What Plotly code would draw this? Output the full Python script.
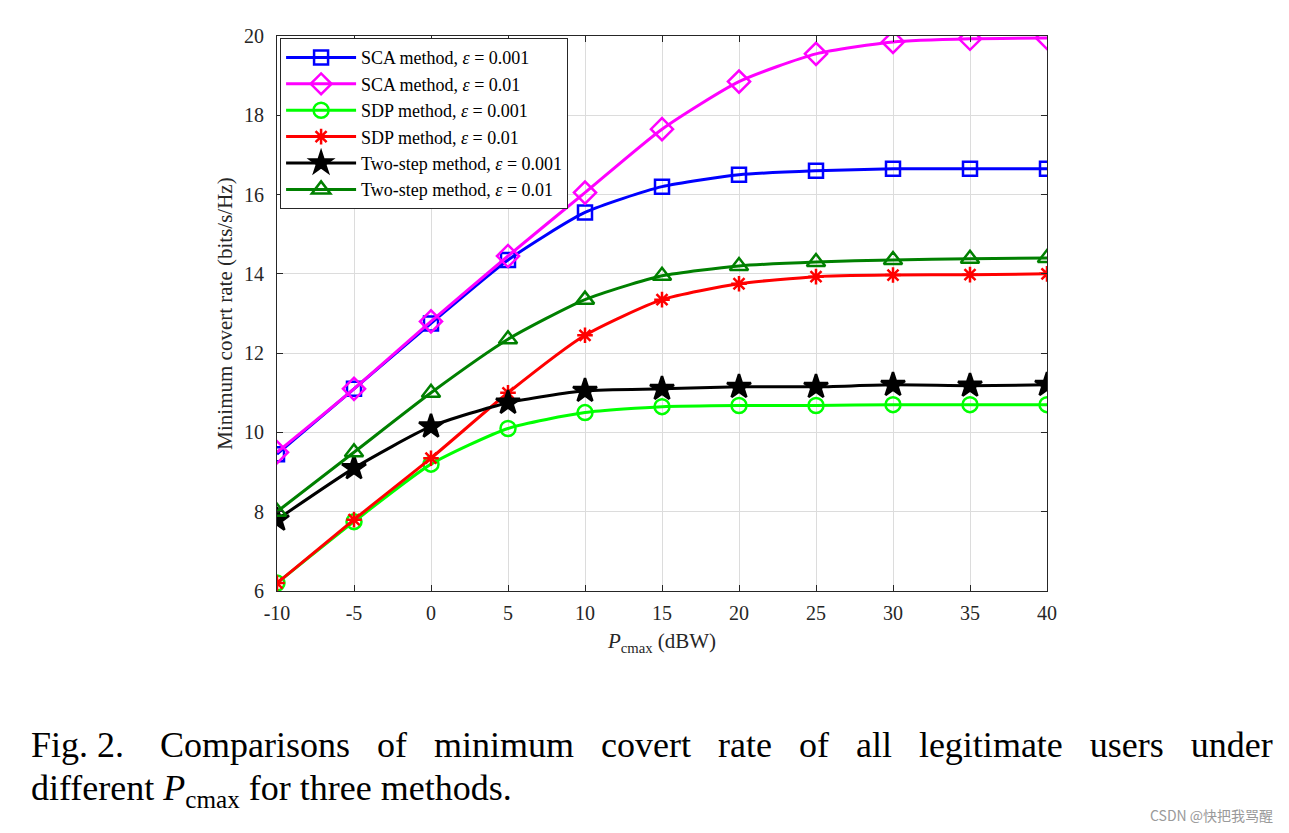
import plotly.graph_objects as go

x_dbw = [-10, -5, 0, 5, 10, 15, 20, 25, 30, 35, 40]
sca_0001 = [9.45, 11.1, 12.75, 14.35, 15.55, 16.2, 16.5, 16.6, 16.65, 16.65, 16.65]
sca_001 = [9.5, 11.1, 12.8, 14.45, 16.05, 17.65, 18.85, 19.55, 19.85, 19.93, 19.95]
sdp_0001 = [6.2, 7.75, 9.2, 10.1, 10.5, 10.65, 10.68, 10.68, 10.7, 10.7, 10.7]
sdp_001 = [6.2, 7.8, 9.35, 11.0, 12.45, 13.35, 13.75, 13.93, 13.97, 13.98, 14.0]
two_0001 = [7.8, 9.1, 10.15, 10.75, 11.05, 11.1, 11.15, 11.15, 11.2, 11.18, 11.2]
two_001 = [8.0, 9.5, 11.0, 12.35, 13.35, 13.95, 14.2, 14.3, 14.35, 14.38, 14.4]

x_ticks = [-10, -5, 0, 5, 10, 15, 20, 25, 30, 35, 40]
y_ticks = [6, 8, 10, 12, 14, 16, 18, 20]

series = [
    ("SCA method, <i>ε</i> = 0.001", sca_0001, "#0000FF", "square-open", 14),
    ("SCA method, <i>ε</i> = 0.01", sca_001, "#FF00FF", "diamond-open", 17),
    ("SDP method, <i>ε</i> = 0.001", sdp_0001, "#00FF00", "circle-open", 15),
    ("SDP method, <i>ε</i> = 0.01", sdp_001, "#FF0000", "asterisk-open", 13),
    ("Two-step method, <i>ε</i> = 0.001", two_0001, "#000000", "star", 18),
    ("Two-step method, <i>ε</i> = 0.01", two_001, "#008000", "triangle-up-open", 16),
]

fig = go.Figure()
for name, ys, color, sym, size in series:
    fig.add_trace(go.Scatter(
        x=x_dbw, y=ys, name=name, mode="lines+markers",
        line=dict(color=color, width=3, shape="spline", smoothing=0.6),
        marker=dict(symbol=sym, size=size, color=color,
                    line=dict(color=color, width=2.5)),
    ))

font_fam = "Liberation Serif, Times New Roman, serif"
fig.update_layout(
    width=1273, height=817,
    margin=dict(l=269, r=234, t=28, b=234),
    paper_bgcolor="white", plot_bgcolor="white",
    font=dict(family=font_fam, size=17, color="#262626"),
    showlegend=True,
    legend=dict(
        x=0.004, y=0.996, xanchor="left", yanchor="top",
        xref="paper", yref="paper",
        bgcolor="white", bordercolor="#262626", borderwidth=1,
        font=dict(family=font_fam, size=18, color="#000000"),
        itemwidth=70, tracegroupgap=0,
    ),
    xaxis=dict(
        range=[-10, 40], tickvals=x_ticks, ticktext=[str(v) for v in x_ticks],
        showgrid=True, gridcolor="#dcdcdc", gridwidth=1,
        zeroline=False, showline=True, linecolor="#262626", linewidth=1,
        mirror="ticks", ticks="inside", ticklen=6, tickcolor="#262626",
        tickfont=dict(size=20, family=font_fam), ticklabelstandoff=4,
        title=dict(text="<i>P</i><sub>cmax</sub> (dBW)", standoff=10,
                   font=dict(size=21, family=font_fam)),
    ),
    yaxis=dict(
        range=[6, 20], tickvals=y_ticks,
        showgrid=True, gridcolor="#dcdcdc", gridwidth=1,
        zeroline=False, showline=True, linecolor="#262626", linewidth=1,
        mirror="ticks", ticks="inside", ticklen=6, tickcolor="#262626",
        tickfont=dict(size=20, family=font_fam), ticklabelstandoff=8,
        title=dict(text="Minimum covert rate (bits/s/Hz)", standoff=5,
                   font=dict(size=21, family=font_fam)),
    ),
)

nb = "\u00a0"
g3 = nb * 3
words = ["Comparisons", "of", "minimum", "covert", "rate", "of", "all", "legitimate", "users", "under"]
line1 = "Fig." + nb + "2." + nb * 4 + g3.join(words)
fig.add_annotation(
    text=line1,
    xref="paper", yref="paper", x=-0.322, y=-0.277, xanchor="left", yanchor="middle",
    showarrow=False, font=dict(family=font_fam, size=36, color="black"),
)
fig.add_annotation(
    text="different <i>P</i><sub>cmax</sub> for three methods.",
    xref="paper", yref="paper", x=-0.322, y=-0.36, xanchor="left", yanchor="middle",
    showarrow=False, font=dict(family=font_fam, size=36, color="black"),
)
fig.add_annotation(
    text="CSDN @快把我骂醒",
    xref="paper", yref="paper", x=1.296, y=-0.4036, xanchor="right", yanchor="middle",
    showarrow=False, font=dict(family="Noto Sans CJK SC, sans-serif", size=14, color="#9a9a9a"),
)

fig.write_html("out.html")
